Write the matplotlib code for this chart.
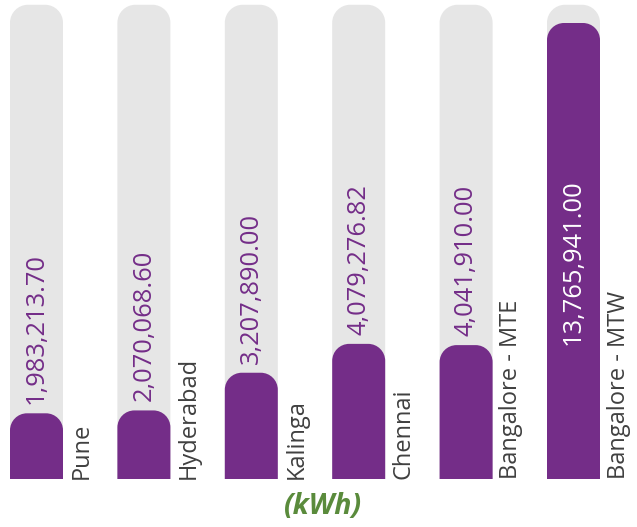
import matplotlib
matplotlib.use("Agg")
import matplotlib.pyplot as plt
from matplotlib.path import Path
from matplotlib.patches import PathPatch

categories = ["Pune", "Hyderabad", "Kalinga", "Chennai", "Bangalore - MTE", "Bangalore - MTW"]
values = [1983213.70, 2070068.60, 3207890.00, 4079276.82, 4041910.00, 13765941.00]
value_labels = ["1,983,213.70", "2,070,068.60", "3,207,890.00", "4,079,276.82", "4,041,910.00", "13,765,941.00"]
unit_label = "(kWh)"

PURPLE = "#742d88"
GRAY = "#e6e6e6"
GREEN = "#5a8b3c"
TEXT = "#404040"
FONT = "Open Sans"

W, H = 637, 527
fig = plt.figure(figsize=(W / 100, H / 100), dpi=100)
base_px = 48
ax = fig.add_axes([0, base_px / H, 1, (H - base_px) / H])
ax.set_axis_off()

px_per_unit = 107.4
x0_px = 36.5
ax.set_xlim(-x0_px / px_per_unit, (W - x0_px) / px_per_unit)
ymax = max(values)
px_per_val = 456 / ymax
ax.set_ylim(0, (H - base_px) / px_per_val)

bar_w = 53 / px_per_unit
bg_h = max(values) * 1.04
K = 0.5523


def rounded_bar(x, h, w, r_px, color, zorder):
    rx = r_px / px_per_unit
    ry = r_px / px_per_val
    ry = min(ry, h)
    l, r = x - w / 2, x + w / 2
    verts = [
        (l, 0), (l, h - ry),
        (l, h - ry + K * ry), (l + rx - K * rx, h), (l + rx, h),
        (r - rx, h),
        (r - rx + K * rx, h), (r, h - ry + K * ry), (r, h - ry),
        (r, 0), (l, 0),
    ]
    codes = [Path.MOVETO, Path.LINETO,
             Path.CURVE4, Path.CURVE4, Path.CURVE4,
             Path.LINETO,
             Path.CURVE4, Path.CURVE4, Path.CURVE4,
             Path.LINETO, Path.CLOSEPOLY]
    ax.add_patch(PathPatch(Path(verts, codes), facecolor=color, edgecolor="none", zorder=zorder))


for i, (cat, v, lab) in enumerate(zip(categories, values, value_labels)):
    rounded_bar(i, bg_h, bar_w, 18, GRAY, 1)
    rounded_bar(i, v, bar_w, 17, PURPLE, 2)
    if v == max(values):
        ax.text(i, v * 0.475, lab, rotation=90, ha="center", va="center",
                color="white", fontsize=18.4, family=FONT, zorder=3)
    else:
        ax.annotate(lab, (i, v), xytext=(0, 9), textcoords="offset pixels",
                    rotation=90, ha="center", va="bottom", color=PURPLE,
                    fontsize=18.4, family=FONT, zorder=3)
    ax.text(i + 0.31, 0, cat, rotation=90, ha="left", va="bottom",
            color=TEXT, fontsize=17, family=FONT, zorder=3)

fig.text(323 / W, 1 - 506 / H, unit_label, ha="center", va="center",
         color=GREEN, fontsize=20.5, fontweight="bold", fontstyle="italic", family=FONT)

fig.savefig("out.png", dpi=100)
